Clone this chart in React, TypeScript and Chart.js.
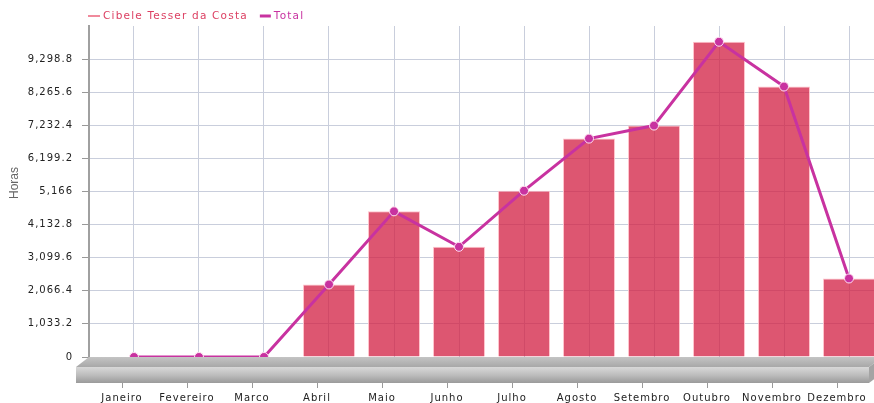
import React, { useEffect, useRef } from 'react';
import { Chart, registerables } from 'chart.js';

Chart.register(...registerables);

// ---- data ----
const months = ['Janeiro', 'Fevereiro', 'Marco', 'Abril', 'Maio', 'Junho', 'Julho', 'Agosto', 'Setembro', 'Outubro', 'Novembro', 'Dezembro'];
const cibeleHours = [0, 0, 0, 2264, 4547, 3440, 5191, 6817, 7224, 9841, 8443, 2451];
const totalHours = [0, 0, 0, 2264, 4547, 3440, 5191, 6817, 7224, 9841, 8443, 2451];
const yTickValues = [0, 1033.2, 2066.4, 3099.6, 4132.8, 5166, 6199.2, 7232.4, 8265.6, 9298.8];
const yMax = 10332;
const seriesNames = ['Cibele Tesser da Costa', 'Total'];
const yTitle = 'Horas';

// ---- styles ----
const BAR_FILL = 'rgba(210,30,65,0.75)';
const BAR_EDGE = 'rgba(255,190,200,0.9)';
const LINE = 'rgb(200,50,160)';
const GRID = '#c9cedc';
const AXIS = '#a0a0a0';
const TEXT = '#222222';
const DEPTH_X = 13;
const DEPTH_Y = 10;
const FRONT_H = 16;
const LABEL_SHIFT = -12;

const decor = {
  id: 'decor',
  beforeLayout(chart: any) {
    chart.ctx.letterSpacing = '1px';
  },
  beforeDraw(chart: any) {
    chart.ctx.letterSpacing = '1px';
  },
  beforeDatasetsDraw(chart: any) {
    const { ctx, chartArea } = chart;
    const L = chartArea.left;
    const B = chartArea.bottom;
    const R = chartArea.right + 8;
    ctx.save();
    // top face
    let g = ctx.createLinearGradient(0, B, 0, B + DEPTH_Y);
    g.addColorStop(0, '#c4c4c4');
    g.addColorStop(1, '#a8a8a8');
    ctx.fillStyle = g;
    ctx.beginPath();
    ctx.moveTo(L, B);
    ctx.lineTo(R, B);
    ctx.lineTo(R - DEPTH_X, B + DEPTH_Y);
    ctx.lineTo(L - DEPTH_X, B + DEPTH_Y);
    ctx.closePath();
    ctx.fill();
    // front face
    g = ctx.createLinearGradient(0, B + DEPTH_Y, 0, B + DEPTH_Y + FRONT_H);
    g.addColorStop(0, '#d8d8d8');
    g.addColorStop(0.5, '#bdbdbd');
    g.addColorStop(1, '#9a9a9a');
    ctx.fillStyle = g;
    ctx.fillRect(L - DEPTH_X, B + DEPTH_Y, R - L, FRONT_H);
    // side face
    ctx.fillStyle = '#a4a4a4';
    ctx.beginPath();
    ctx.moveTo(R - DEPTH_X, B + DEPTH_Y);
    ctx.lineTo(R, B);
    ctx.lineTo(R, B + FRONT_H);
    ctx.lineTo(R - DEPTH_X, B + DEPTH_Y + FRONT_H);
    ctx.closePath();
    ctx.fill();
    ctx.restore();
  },
  afterDraw(chart: any) {
    const { ctx, chartArea } = chart;
    const xs = chart.scales.x;
    const B = chartArea.bottom;
    ctx.save();
    // x tick marks under floor
    ctx.strokeStyle = '#999999';
    ctx.lineWidth = 1;
    months.forEach((_, i) => {
      const px = Math.round(xs.getPixelForValue(i) + LABEL_SHIFT) + 0.5;
      ctx.beginPath();
      ctx.moveTo(px, B + DEPTH_Y + FRONT_H);
      ctx.lineTo(px, B + DEPTH_Y + FRONT_H + 5);
      ctx.stroke();
    });
    // legend
    ctx.letterSpacing = '1.2px';
    ctx.font = '10.5px "DejaVu Sans"';
    ctx.textBaseline = 'middle';
    ctx.textAlign = 'left';
    const ly = 16;
    let x = 88;
    ctx.strokeStyle = '#f08a9c';
    ctx.lineWidth = 2;
    ctx.beginPath();
    ctx.moveTo(x, ly);
    ctx.lineTo(x + 12, ly);
    ctx.stroke();
    ctx.fillStyle = '#dc3f62';
    ctx.fillText(seriesNames[0], x + 15, ly);
    x = x + 15 + ctx.measureText(seriesNames[0]).width + 12;
    ctx.strokeStyle = LINE;
    ctx.lineWidth = 3;
    ctx.beginPath();
    ctx.moveTo(x, ly);
    ctx.lineTo(x + 11, ly);
    ctx.stroke();
    ctx.fillStyle = LINE;
    ctx.fillText(seriesNames[1], x + 14, ly);
    // y title
    ctx.letterSpacing = '0px';
    ctx.font = '12px "Liberation Sans"';
    ctx.fillStyle = '#666666';
    ctx.textAlign = 'center';
    ctx.translate(15, 183);
    ctx.rotate(-Math.PI / 2);
    ctx.fillText(yTitle, 0, 0);
    ctx.restore();
  },
};

export default function App() {
  const ref = useRef<HTMLCanvasElement>(null);
  useEffect(() => {
    document.body.style.margin = '0';
    const canvas = ref.current!;
    const chart = new Chart(canvas, {
      type: 'bar',
      data: {
        datasets: [
          {
            type: 'line',
            label: seriesNames[1],
            data: totalHours.map((v, i) => ({ x: i, y: v })),
            borderColor: LINE,
            backgroundColor: LINE,
            borderWidth: 3,
            pointRadius: 4.5,
            pointBackgroundColor: LINE,
            pointBorderColor: 'rgba(255,225,240,1)',
            pointBorderWidth: 1,
            tension: 0,
            order: 0,
          } as any,
          {
            type: 'bar',
            label: seriesNames[0],
            data: cibeleHours.map((v, i) => ({ x: i, y: v })),
            backgroundColor: BAR_FILL,
            borderColor: BAR_EDGE,
            borderWidth: (c: any) => (c.raw && c.raw.y ? 1 : 0),
            categoryPercentage: 0.8,
            barPercentage: 1,
            order: 1,
          } as any,
        ],
      },
      options: {
        responsive: false,
        animation: false,
        layout: { autoPadding: false, padding: { top: 26, left: 0, right: 0, bottom: 0 } },
        plugins: { legend: { display: false }, tooltip: { enabled: false } },
        scales: {
          x: {
            type: 'linear',
            min: -0.6923,
            max: 11.3846,
            offset: false,
            afterBuildTicks: (s: any) => {
              s.ticks = months.map((_, i) => ({ value: i }));
            },
            afterFit: (s: any) => {
              s.height = 46;
              s.paddingLeft = 0;
              s.paddingRight = 0;
            },
            grid: { color: GRID, lineWidth: 1, drawTicks: false, offset: false },
            border: { display: false },
            ticks: {
              autoSkip: false,
              maxRotation: 0,
              minRotation: 0,
              padding: 35,
              labelOffset: LABEL_SHIFT,
              color: TEXT,
              font: { family: 'DejaVu Sans', size: 10 },
              callback: (v: any) => months[v] ?? '',
            },
          },
          y: {
            min: 0,
            max: yMax,
            afterBuildTicks: (s: any) => {
              s.ticks = yTickValues.map((value) => ({ value }));
            },
            afterFit: (s: any) => {
              s.width = 89;
              s.paddingTop = 0;
              s.paddingBottom = 0;
            },
            grid: { color: GRID, lineWidth: 1, tickLength: 7, tickColor: '#999999' },
            border: { color: AXIS, width: 2 },
            ticks: {
              padding: 9,
              color: TEXT,
              font: { family: 'DejaVu Sans', size: 10 },
              callback: (v: any) => Number(v).toLocaleString('en-US', { maximumFractionDigits: 1 }),
            },
          },
        },
      },
      plugins: [decor],
    } as any);
    return () => chart.destroy();
  }, []);
  return (
    <div style={{ width: 874, height: 403, overflow: 'hidden' }}>
      <canvas ref={ref} width={874} height={403} style={{ display: 'block', width: 874, height: 403 }} />
    </div>
  );
}
